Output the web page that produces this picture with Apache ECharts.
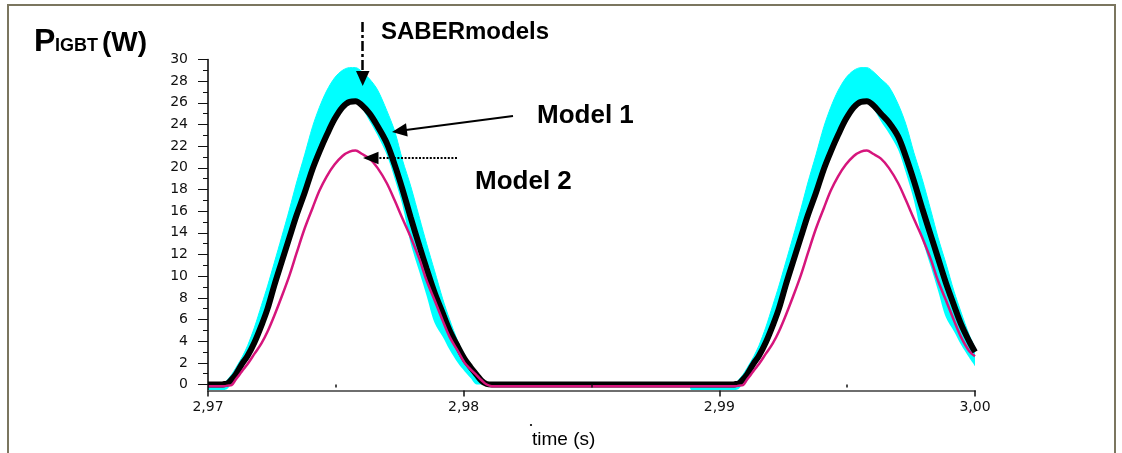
<!DOCTYPE html>
<html><head><meta charset="utf-8">
<script src="https://cdn.jsdelivr.net/npm/echarts@6/dist/echarts.min.js"></script>
<style>html,body{margin:0;padding:0;background:#fff}#c{width:1122px;height:453px}</style>
</head><body><div id="c"></div>
<script>
// ---- data ----
const time = [
  2.97000, 2.97053, 2.97065, 2.97076, 2.97092, 2.97108, 2.97123, 2.97135, 2.97155, 2.97182,
  2.97209, 2.97233, 2.97260, 2.97288, 2.97319, 2.97346, 2.97378, 2.97409, 2.97436, 2.97464,
  2.97495, 2.97526, 2.97554, 2.97577, 2.97601, 2.97632, 2.97663, 2.97699, 2.97730, 2.97761,
  2.97793, 2.97828, 2.97855, 2.97886, 2.97918, 2.97945, 2.97977, 2.98004, 2.98027, 2.98051,
  2.98070, 2.98090, 2.98110,
  2.98500, 2.98880, 2.98890,
  2.99000, 2.99053, 2.99065, 2.99076, 2.99092, 2.99108, 2.99123, 2.99135, 2.99155, 2.99182,
  2.99209, 2.99233, 2.99260, 2.99288, 2.99319, 2.99346, 2.99378, 2.99409, 2.99436, 2.99464,
  2.99495, 2.99526, 2.99554, 2.99577, 2.99601, 2.99632, 2.99663, 2.99699, 2.99730, 2.99761,
  2.99793, 2.99828, 2.99855, 2.99886, 2.99918, 2.99945, 2.99977, 3.00000
];
// SABER model: switching envelope (lower / upper)
const saberLow = [
  -0.5, -0.5, -0.5, -0.4, 0.1, 0.6, 1.2, 1.6, 2.3, 3.5,
  5.0, 6.6, 8.8, 10.9, 13.2, 15.2, 17.3, 19.5, 21.1, 22.6,
  24.1, 25.35, 25.9, 25.95, 25.5, 24.3, 23.0, 21.2, 19.0, 16.5,
  13.0, 10.3, 8.2, 5.7, 4.4, 3.2, 2.0, 1.2, 0.6, 0,
  0, 0, 0,
  0, 0, -0.5,
  -0.5, -0.5, -0.5, -0.4, 0.1, 0.6, 1.2, 1.6, 2.3, 3.5,
  5.0, 6.6, 8.8, 10.9, 13.2, 15.2, 17.3, 19.5, 21.1, 22.6,
  24.1, 25.35, 25.9, 25.95, 25.5, 24.3, 23.2, 21.7, 19.5, 17.0,
  13.5, 10.8, 8.7, 6.2, 4.9, 3.7, 2.5, 1.7
];
const saberHigh = [
  0, 0, 0.1, 0.45, 0.9, 1.5, 2.1, 2.6, 3.6, 5.3,
  7.3, 9.1, 11.3, 13.6, 16.2, 18.6, 21.2, 23.8, 25.6, 27.1,
  28.3, 29.0, 29.25, 29.25, 28.9, 28.2, 27.2, 25.3, 23.4, 20.7,
  18.3, 15.3, 13.0, 10.5, 7.9, 6.0, 4.0, 2.7, 1.8, 1.0,
  0.4, 0, 0,
  0, 0, 0,
  0, 0, 0.1, 0.45, 0.9, 1.5, 2.1, 2.6, 3.6, 5.3,
  7.3, 9.1, 11.3, 13.6, 16.2, 18.6, 21.2, 23.8, 25.6, 27.1,
  28.3, 29.0, 29.25, 29.25, 28.9, 28.2, 27.5, 25.9, 24.0, 21.4,
  19.0, 16.0, 13.6, 11.2, 8.6, 6.7, 4.6, 3.4
];
const model1 = [
  0, 0, 0.05, 0.1, 0.45, 0.9, 1.5, 1.98, 2.65, 3.9,
  5.45, 7.0, 9.2, 11.3, 13.6, 15.6, 17.7, 19.9, 21.5, 23.0,
  24.5, 25.6, 26.1, 26.15, 25.8, 25.0, 23.85, 22.3, 20.3, 18.0,
  15.4, 12.7, 10.7, 8.5, 6.6, 5.0, 3.5, 2.35, 1.6, 0.9,
  0.35, 0.05, 0,
  0, 0, 0,
  0, 0, 0.05, 0.1, 0.45, 0.9, 1.5, 1.98, 2.65, 3.9,
  5.45, 7.0, 9.2, 11.3, 13.6, 15.6, 17.7, 19.9, 21.5, 23.0,
  24.5, 25.6, 26.1, 26.15, 25.8, 25.0, 24.2, 22.9, 21.0, 18.8,
  16.3, 13.7, 11.7, 9.4, 7.3, 5.6, 4.0, 3.0
];
const model2 = [
  -0.15, -0.15, -0.15, -0.1, -0.05, 0.45, 0.9, 1.3, 1.9, 2.85,
  3.8, 4.9, 6.4, 8.1, 10.1, 12.1, 14.4, 16.3, 17.9, 19.2,
  20.3, 21.1, 21.5, 21.6, 21.3, 20.85, 20.0, 18.6, 17.0, 15.3,
  13.6, 11.5, 9.6, 7.8, 5.9, 4.4, 3.1, 2.0, 1.4, 0.85,
  0.4, 0, -0.15,
  -0.15, -0.15, -0.15,
  -0.15, -0.15, -0.15, -0.1, -0.05, 0.45, 0.9, 1.3, 1.9, 2.85,
  3.8, 4.9, 6.4, 8.1, 10.1, 12.1, 14.4, 16.3, 17.9, 19.2,
  20.3, 21.1, 21.5, 21.6, 21.3, 20.85, 20.0, 18.6, 17.0, 15.3,
  13.6, 11.5, 9.6, 7.8, 5.9, 4.4, 3.1, 2.6
];
const xTicks = [2.97, 2.98, 2.99, 3.00];
const xMinorTicks = [2.975, 2.985, 2.995];
const yTicks = [0, 2, 4, 6, 8, 10, 12, 14, 16, 18, 20, 22, 24, 26, 28, 30];
const yMinorTicks = [1, 3, 5, 7, 9, 11, 13, 15, 17, 19, 21, 23, 25, 27, 29];

// ---- font availability ----
function fontAvailable(name) {
  const ctx = document.createElement('canvas').getContext('2d');
  const s = 'SABERmodels 1234 Wm';
  ctx.font = '40px monospace'; const a = ctx.measureText(s).width;
  ctx.font = '40px "' + name + '", monospace'; const b = ctx.measureText(s).width;
  return Math.abs(a - b) > 0.5;
}
const NARROW = fontAvailable('Liberation Sans Narrow');
const BOLD_FAM = NARROW ? '"Liberation Sans Narrow", "Liberation Sans", sans-serif' : '"Liberation Sans", Arial, sans-serif';
const SZ = NARROW
  ? { P: 33, sub: 21, W: 33, saber: 28, model: 30 }
  : { P: 32, sub: 18, W: 28, saber: 24, model: 26 };

function txt(text, x, baseline, size, weight, fam, color) {
  return {
    type: 'text', x: x, y: baseline - 0.31 * size, z: 100, silent: true,
    style: { text: text, font: (weight || 'normal') + ' ' + size + 'px ' + fam, fill: color || '#000', align: 'left', verticalAlign: 'middle' }
  };
}

const chart = echarts.init(document.getElementById('c'), null, { renderer: 'canvas' });
const pairs = arr => time.map((t, i) => [t, arr[i]]);

const labelFont = { fontFamily: 'DejaVu Sans', fontSize: 14, color: '#111' };
const option = {
  animation: false,
  backgroundColor: '#fff',
  grid: { left: 208, right: 147, top: 59.5, bottom: 62.5, containLabel: false, outerBoundsMode: 'none' },
  xAxis: [
    {
      type: 'value', min: 2.97, max: 3.0, position: 'bottom', z: 10,
      axisLine: { show: true, onZero: false, lineStyle: { color: '#6e6e6e', width: 2 } },
      axisTick: { show: true, customValues: xTicks, length: 6, lineStyle: { color: '#111', width: 1.5 } },
      axisLabel: Object.assign({ customValues: xTicks, margin: 10, formatter: v => v.toFixed(2).replace('.', ',') }, labelFont),
      splitLine: { show: false }
    },
    {
      type: 'value', min: 2.97, max: 3.0, position: 'bottom', z: 10,
      axisLine: { show: false },
      axisTick: { show: true, customValues: xMinorTicks, length: 3, lineStyle: { color: '#111', width: 1.5 } },
      axisLabel: { show: false }, splitLine: { show: false }
    }
  ],
  yAxis: [
    {
      type: 'value', min: -0.55, max: 30, position: 'left', z: 10,
      axisLine: { show: true, onZero: false, lineStyle: { color: '#000', width: 1.5 } },
      axisTick: { show: true, customValues: yTicks, length: 10, lineStyle: { color: '#111', width: 1 } },
      axisLabel: Object.assign({ customValues: yTicks, margin: 20 }, labelFont),
      splitLine: { show: false }
    },
    {
      type: 'value', min: -0.55, max: 30, position: 'left', z: 10,
      axisLine: { show: false },
      axisTick: { show: true, customValues: yMinorTicks, length: 5, lineStyle: { color: '#111', width: 1 } },
      axisLabel: { show: false }, splitLine: { show: false }
    }
  ],
  series: [
    {
      name: 'SABERmodels', type: 'line', data: pairs(saberHigh),
      symbol: 'none', smooth: 0.3, lineStyle: { color: '#00ffff', width: 1 },
      areaStyle: { color: '#00ffff', opacity: 1, origin: 'start' }, silent: true, z: 1
    },
    {
      name: 'SABER lower envelope', type: 'line', data: pairs(saberLow),
      symbol: 'none', smooth: 0.3, lineStyle: { width: 0, opacity: 0 },
      areaStyle: { color: '#ffffff', opacity: 1, origin: 'start' }, silent: true, z: 2
    },
    {
      name: 'Model 1', type: 'line', data: pairs(model1), symbol: 'none', smooth: 0.35,
      lineStyle: { color: '#000', width: 6 }, silent: true, z: 3
    },
    {
      name: 'Model 2', type: 'line', data: pairs(model2), symbol: 'none', smooth: 0.35,
      lineStyle: { color: '#d6157c', width: 2.5 }, silent: true, z: 4
    }
  ],
  graphic: [
    { type: 'rect', silent: true, z: 100, shape: { x: 8, y: 5, width: 1107, height: 470 }, style: { fill: 'none', stroke: '#7b765f', lineWidth: 2 } },
    // title
    txt('P', 34, 52, SZ.P, 'bold', BOLD_FAM),
    txt('IGBT', NARROW ? 51 : 55, 52, SZ.sub, 'bold', BOLD_FAM),
    txt('(W)', 102, 52, SZ.W, 'bold', BOLD_FAM),
    // annotations
    txt('SABERmodels', 381, 40, SZ.saber, 'bold', BOLD_FAM),
    txt('Model 1', 537, 124, SZ.model, 'bold', BOLD_FAM),
    txt('Model 2', 475, 190, SZ.model, 'bold', BOLD_FAM),
    txt('time (s)', 532, 446, 19, 'normal', '"Liberation Sans", Arial, sans-serif'),
    { type: 'circle', silent: true, z: 100, shape: { cx: 531, cy: 425, r: 1.1 }, style: { fill: '#000' } },
    // SABER dash-dot arrow
    { type: 'line', silent: true, z: 100, shape: { x1: 362.5, y1: 22, x2: 362.5, y2: 72 }, style: { stroke: '#000', lineWidth: 2.5, lineDash: [10, 3, 3, 3] } },
    { type: 'polygon', silent: true, z: 100, shape: { points: [[356, 71], [369.5, 71], [362.7, 86]] }, style: { fill: '#000' } },
    // Model 1 arrow
    { type: 'line', silent: true, z: 100, shape: { x1: 513, y1: 116, x2: 402, y2: 130.5 }, style: { stroke: '#000', lineWidth: 2 } },
    { type: 'polygon', silent: true, z: 100, shape: { points: [[392, 132], [407.7, 136.6], [406, 123.3]] }, style: { fill: '#000' } },
    // Model 2 dotted arrow
    { type: 'line', silent: true, z: 100, shape: { x1: 457, y1: 158, x2: 377, y2: 158 }, style: { stroke: '#000', lineWidth: 2, lineDash: [2, 1.6] } },
    { type: 'polygon', silent: true, z: 100, shape: { points: [[363, 158], [378.5, 151.8], [378.5, 164.2]] }, style: { fill: '#000' } }
  ]
};
chart.setOption(option);
</script>
</body></html>
